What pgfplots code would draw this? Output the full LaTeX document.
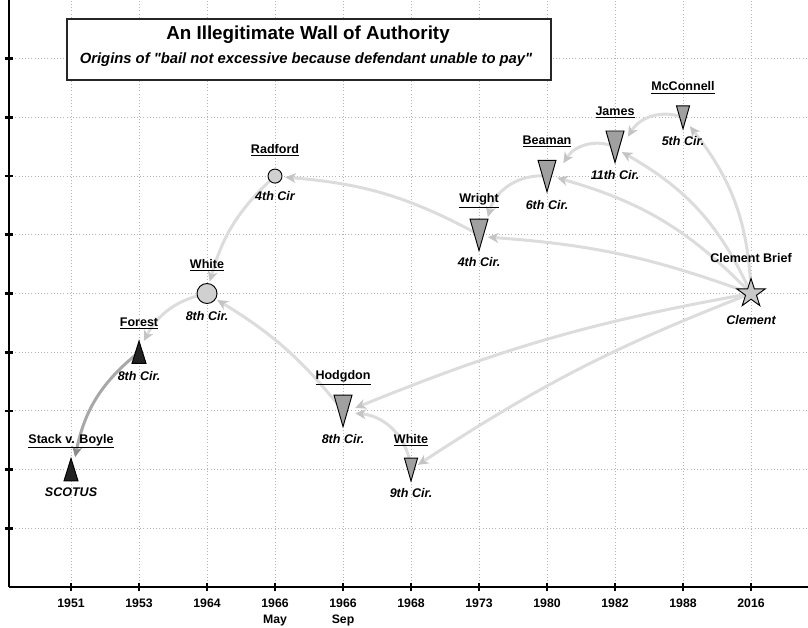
\documentclass[border=0pt]{standalone}
\usepackage{fontspec}
\setmainfont{Liberation Sans}[Ligatures=TeXOff]
\usepackage{pgfplots}
\pgfplotsset{compat=1.18}
\usetikzlibrary{arrows.meta}

\definecolor{arr}{HTML}{DCDCDC}
\definecolor{arrhead}{HTML}{C4C4C4}
\definecolor{arrdark}{HTML}{A8A8A8}
\definecolor{tdark}{HTML}{222222}
\definecolor{tmid}{HTML}{A0A0A0}
\definecolor{clight}{HTML}{D0D0D0}
\definecolor{slight}{HTML}{C8C8C8}
\definecolor{gridc}{HTML}{B4B4B4}

\pgfdeclareplotmark{tdown}{%
  \pgfpathmoveto{\pgfpoint{-\pgfplotmarksize}{1.75\pgfplotmarksize}}%
  \pgfpathlineto{\pgfpoint{\pgfplotmarksize}{1.75\pgfplotmarksize}}%
  \pgfpathlineto{\pgfpoint{0pt}{-1.75\pgfplotmarksize}}%
  \pgfpathclose\pgfusepathqfillstroke}
\pgfdeclareplotmark{tup}{%
  \pgfpathmoveto{\pgfpoint{-\pgfplotmarksize}{-1.6\pgfplotmarksize}}%
  \pgfpathlineto{\pgfpoint{\pgfplotmarksize}{-1.6\pgfplotmarksize}}%
  \pgfpathlineto{\pgfpoint{0pt}{1.6\pgfplotmarksize}}%
  \pgfpathclose\pgfusepathqfillstroke}
\pgfdeclareplotmark{fstar}{%
  \pgfpathmoveto{\pgfpointpolar{90}{\pgfplotmarksize}}%
  \pgfpathlineto{\pgfpointpolar{126}{0.382\pgfplotmarksize}}%
  \pgfpathlineto{\pgfpointpolar{162}{\pgfplotmarksize}}%
  \pgfpathlineto{\pgfpointpolar{198}{0.382\pgfplotmarksize}}%
  \pgfpathlineto{\pgfpointpolar{234}{\pgfplotmarksize}}%
  \pgfpathlineto{\pgfpointpolar{270}{0.382\pgfplotmarksize}}%
  \pgfpathlineto{\pgfpointpolar{306}{\pgfplotmarksize}}%
  \pgfpathlineto{\pgfpointpolar{342}{0.382\pgfplotmarksize}}%
  \pgfpathlineto{\pgfpointpolar{18}{\pgfplotmarksize}}%
  \pgfpathlineto{\pgfpointpolar{54}{0.382\pgfplotmarksize}}%
  \pgfpathclose\pgfusepathqfillstroke}

\tikzset{
  arrl/.style={line width=2.25pt, draw=arr,
    -{Stealth[length=8pt,width=7.5pt,inset=2.5pt,color=arrhead]}},
  arrd/.style={line width=2.25pt, draw=arrdark,
    -{Stealth[length=8pt,width=7.5pt,inset=2.5pt,color=black!45]}},
  nm/.style={anchor=base, font=\fontsize{9.4}{11}\selectfont\bfseries},
  ct/.style={anchor=base, font=\fontsize{9.4}{11}\selectfont\bfseries\itshape},
}

\begin{document}
\begin{tikzpicture}
\begin{axis}[
  name=ax,
  scale only axis, width=599.25pt, height=440.25pt,
  xmin=-0.912, xmax=10.838, ymin=0, ymax=10,
  axis x line=bottom, axis y line=left,
  axis line style={-, line width=0.8pt, black},
  xtick={0,...,10},
  xticklabels={\textbf{1951},\textbf{1953},\textbf{1964},\textbf{1966}\\\textbf{May},\textbf{1966}\\\textbf{Sep},\textbf{1968},\textbf{1973},\textbf{1980},\textbf{1982},\textbf{1988},\textbf{2016}},
  ytick={1,...,9}, yticklabels={,,},
  tick align=center, major tick length=6.5pt,
  tick style={line width=2pt, black},
  grid=major, major grid style={dotted, gridc, line width=0.6pt},
  xticklabel style={font=\fontsize{9.2}{11.6}\selectfont\bfseries, align=center, anchor=north, yshift=-2.25pt},
  clip=false,
]
% title box
\node[draw=black!85, line width=1.1pt, fill=white, minimum width=363pt, minimum height=45.75pt, inner sep=0pt] at (axis cs:3.5,9.157) {};
\node[font=\fontsize{14.1}{16}\selectfont\bfseries] at (axis cs:3.485,9.404) {An Illegitimate Wall of Authority};
\node[font=\fontsize{11.1}{13}\selectfont\bfseries\itshape] at (axis cs:3.456,8.978) {Origins of "bail not excessive because defendant unable to pay"};

% citation arrows
\draw[arrl] (axis cs:10,5) to[bend right=8]  (axis cs:6.13,5.96);
\draw[arrl] (axis cs:10,5) to[bend right=15] (axis cs:7.15,6.97);
\draw[arrl] (axis cs:10,5) to[bend right=18] (axis cs:8.10,7.41);
\draw[arrl] (axis cs:10,5) to[bend right=18] (axis cs:9.10,7.85);
\draw[arrl] (axis cs:10,5) to[bend right=6]  (axis cs:4.18,3.05);
\draw[arrl] (axis cs:10,5) to[bend right=6]  (axis cs:5.10,2.08);
\draw[arrl] (axis cs:7,7)   to[bend right=40] (axis cs:6.13,6.30);
\draw[arrl] (axis cs:8,7.5) to[bend right=40] (axis cs:7.24,7.22);
\draw[arrl] (axis cs:9,8)   to[bend right=40] (axis cs:8.19,7.67);
\draw[arrl] (axis cs:6,6)   to[bend right=12] (axis cs:3.15,6.98);
\draw[arrl] (axis cs:3,7)   to[bend right=16] (axis cs:2.04,5.20);
\draw[arrl] (axis cs:4,3)   to[bend right=10] (axis cs:2.15,4.89);
\draw[arrl] (axis cs:2,5)   to[bend right=25] (axis cs:1.07,4.19);
\draw[arrl] (axis cs:5,2)   to[bend right=40] (axis cs:4.18,2.96);
\draw[arrd] (axis cs:1,4)   to[bend right=20] (axis cs:0.06,2.21);

% markers
\addplot[only marks, mark=tup, mark size=5.25pt, mark options={fill=tdark, draw=black, line width=0.7pt}]
  coordinates {(0,2) (1,4)};
\addplot[only marks, mark=*, mark size=7.5pt, mark options={fill=clight, draw=black, line width=0.7pt}]
  coordinates {(2,5)};
\addplot[only marks, mark=*, mark size=5.25pt, mark options={fill=clight, draw=black, line width=0.7pt}]
  coordinates {(3,7)};
\addplot[only marks, mark=tdown, mark size=6.75pt, mark options={fill=tmid, draw=black, line width=0.7pt}]
  coordinates {(4,3) (6,6) (7,7) (8,7.5)};
\addplot[only marks, mark=tdown, mark size=4.9pt, mark options={fill=tmid, draw=black, line width=0.7pt}]
  coordinates {(5,2) (9,8)};
\addplot[only marks, mark=fstar, mark size=11.25pt, mark options={fill=slight, draw=black, line width=0.7pt}]
  coordinates {(10,5)};

% case names
\node[nm] at ([yshift=19.9pt]axis cs:0,2) {\underline{Stack v. Boyle}};
\node[nm] at ([yshift=19.1pt]axis cs:1,4) {\underline{Forest}};
\node[nm] at ([yshift=19.1pt]axis cs:2,5) {\underline{White}};
\node[nm] at ([yshift=16.9pt]axis cs:3,7) {\underline{Radford}};
\node[nm] at ([yshift=23.6pt]axis cs:4,3) {\underline{Hodgdon}};
\node[nm] at ([yshift=19.9pt]axis cs:5,2) {\underline{White}};
\node[nm] at ([yshift=24.4pt]axis cs:6,6) {\underline{Wright}};
\node[nm] at ([yshift=23.6pt]axis cs:7,7) {\underline{Beaman}};
\node[nm] at ([yshift=23.6pt]axis cs:8,7.5) {\underline{James}};
\node[nm] at ([yshift=19.9pt]axis cs:9,8) {\underline{McConnell}};
\node[nm] at ([yshift=23.6pt]axis cs:10,5) {Clement Brief};

% courts
\node[ct] at ([yshift=-19.9pt]axis cs:0,2) {SCOTUS};
\node[ct] at ([yshift=-21.4pt]axis cs:1,4) {8th Cir.};
\node[ct] at ([yshift=-20.6pt]axis cs:2,5) {8th Cir.};
\node[ct] at ([yshift=-18.4pt]axis cs:3,7) {4th Cir};
\node[ct] at ([yshift=-24.4pt]axis cs:4,3) {8th Cir.};
\node[ct] at ([yshift=-20.6pt]axis cs:5,2) {9th Cir.};
\node[ct] at ([yshift=-23.6pt]axis cs:6,6) {4th Cir.};
\node[ct] at ([yshift=-25.1pt]axis cs:7,7) {6th Cir.};
\node[ct] at ([yshift=-24.4pt]axis cs:8,7.5) {11th Cir.};
\node[ct] at ([yshift=-21.4pt]axis cs:9,8) {5th Cir.};
\node[ct] at ([yshift=-22.9pt]axis cs:10,5) {Clement};
\end{axis}
\pgfresetboundingbox
\path[use as bounding box] ([xshift=-6.75pt,yshift=-30.75pt]ax.south west) rectangle (ax.north east);
\end{tikzpicture}
\end{document}
